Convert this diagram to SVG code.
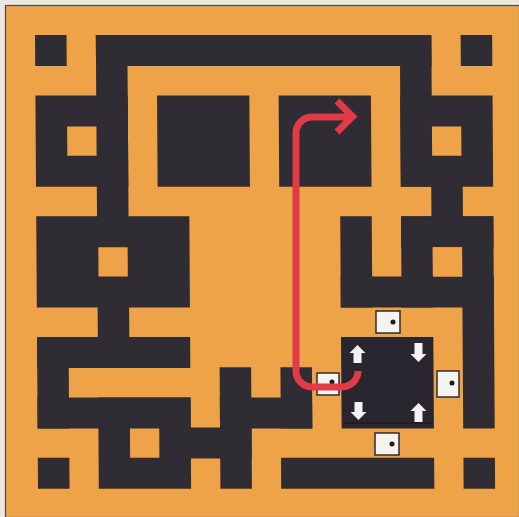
<svg xmlns="http://www.w3.org/2000/svg" width="519" height="517" viewBox="0 0 519 517">
<style>
.w{fill:#2f2c33}
.h{fill:#eea348}
.t{fill:#f5f3ef;stroke:#2f2c33;stroke-width:1.5}
.d{fill:#1e1c22}
.a{fill:#f5f3ef}
.r{fill:none;stroke:#e23a46;stroke-width:7}
</style>
<rect x="0" y="0" width="519" height="517" fill="#ece8df"/>
<rect x="5.5" y="5.5" width="514" height="512" fill="#eea348" stroke="#4b4a55" stroke-width="1.2"/>
<g id="walls" transform="matrix(1 0 0.0066 1 -0.2 0)">
  <rect class="w" x="35" y="35" width="31.5" height="31"/>
  <rect class="w" x="95.8" y="35" width="335.5" height="31"/>
  <rect class="w" x="460.6" y="35" width="31.5" height="31"/>
  <rect class="w" x="95.8" y="35" width="31.5" height="212.2"/>
  <rect class="w" x="399.8" y="35" width="31.5" height="151.8"/>
  <rect class="w" x="35" y="95.4" width="92.3" height="91.4"/>
  <rect class="w" x="156.6" y="95.4" width="92.3" height="91.4"/>
  <rect class="w" x="278.2" y="95.4" width="92.3" height="91.4"/>
  <rect class="w" x="399.8" y="95.4" width="92.3" height="91.4"/>
  <rect class="w" x="430.2" y="185" width="31.5" height="33"/>
  <rect class="w" x="35" y="216.2" width="153.1" height="91.4"/>
  <rect class="w" x="95.8" y="276.6" width="31.5" height="91.4"/>
  <rect class="w" x="35" y="337" width="153.1" height="31"/>
  <rect class="w" x="35" y="337" width="31.5" height="91.4"/>
  <rect class="w" x="35" y="397.4" width="153.1" height="31"/>
  <rect class="w" x="95.8" y="397.4" width="92.3" height="91.4"/>
  <rect class="w" x="156.6" y="427.6" width="92.3" height="31"/>
  <rect class="w" x="217.4" y="367.2" width="31.5" height="121.6"/>
  <rect class="w" x="217.4" y="397.4" width="92.3" height="31"/>
  <rect class="w" x="278.2" y="367.2" width="31.5" height="61.2"/>
  <rect class="w" x="35" y="457.8" width="31.5" height="31"/>
  <rect class="w" x="278.2" y="457.8" width="153.1" height="31"/>
  <rect class="w" x="460.6" y="457.8" width="31.5" height="31"/>
  <rect class="w" x="399.8" y="216.2" width="92.3" height="31"/>
  <rect class="w" x="339" y="216.2" width="31.5" height="91.4"/>
  <rect class="w" x="339" y="276.6" width="153.1" height="31"/>
  <rect class="w" x="399.8" y="216.2" width="31.5" height="91.4"/>
  <rect class="w" x="460.6" y="216.2" width="31.5" height="212.2"/>
  <rect class="h" x="66.5" y="126.4" width="29.3" height="29.4"/>
  <rect class="h" x="431.3" y="126.4" width="29.3" height="29.4"/>
  <rect class="h" x="96.9" y="247.2" width="29.3" height="29.4"/>
  <rect class="h" x="431.3" y="247.2" width="29.3" height="29.4"/>
  <rect class="h" x="127.3" y="428.4" width="29.3" height="29.4"/>
  <g id="center">
    <rect x="339" y="337" width="92.3" height="91.4" fill="#29262f"/>
    <line x1="342" y1="423" x2="430" y2="423" stroke="#141217" stroke-width="1"/>
  </g>
</g>
<g id="arrows">
  <polygon class="a" points="357.5,345 365.5,353 361.5,353 361.5,363 353.5,363 353.5,353 349.5,353"/>
  <polygon class="a" points="418.5,362 426.5,354 422.5,354 422.5,343 414.5,343 414.5,354 410.5,354"/>
  <polygon class="a" points="358.5,420 366.5,412 362.5,412 362.5,402 354.5,402 354.5,412 350.5,412"/>
  <polygon class="a" points="418.5,403 426.5,411 422.5,411 422.5,422 414.5,422 414.5,411 410.5,411"/>
</g>
<g id="tiles">
  <rect class="t" x="376" y="311" width="24" height="22"/>
  <circle class="d" cx="393" cy="322" r="2.5"/>
  <rect class="t" x="437" y="371" width="22" height="26"/>
  <circle class="d" cx="452" cy="383" r="2.5"/>
  <rect class="t" x="375" y="433" width="24" height="22"/>
  <circle class="d" cx="392" cy="444" r="2.5"/>
  <rect class="t" x="317" y="373" width="22" height="22"/>
  <circle class="d" cx="332" cy="382" r="2.5"/>
</g>
<g id="path">
  <path class="r" d="M358 371 A16 16 0 0 1 342 387 H312 A16 16 0 0 1 296 371 V133 A16 16 0 0 1 312 117 H350"/>
  <polyline class="r" points="337,101 352.5,116.5 337,132" stroke-linejoin="miter"/>
</g>
</svg>
